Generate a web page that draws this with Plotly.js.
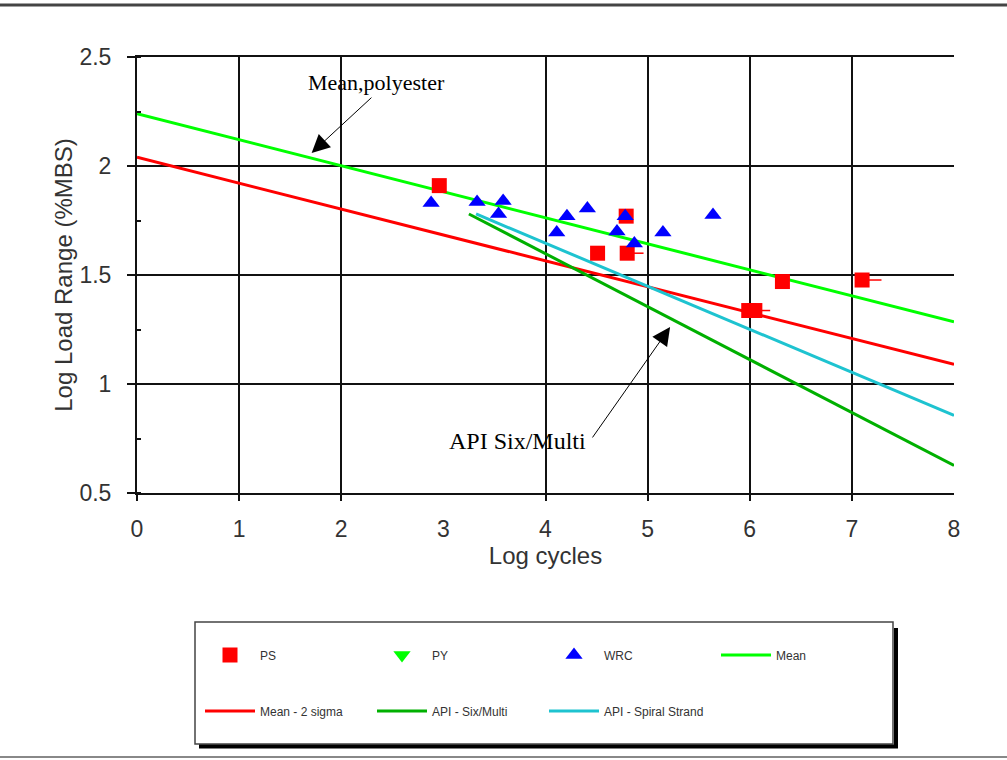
<!DOCTYPE html>
<html>
<head>
<meta charset="utf-8">
<script src="https://cdn.plot.ly/plotly-3.0.1.min.js"></script>
<style>html,body{margin:0;padding:0;background:#fff;}#chart{width:1007px;height:760px;}</style>
</head>
<body>
<div id="chart"></div>
<script>
// ---- data ----
const xTickVals = [0, 1, 2, 3, 4, 5, 6, 7, 8];
const xGridVals = [0, 1, 2, 4, 5, 6, 7];

const psX = [2.96, 4.51, 4.80, 4.79, 5.99, 6.05, 6.32, 7.10];
const psY = [1.91, 1.60, 1.60, 1.77, 1.337, 1.337, 1.47, 1.477];
const psTail = [0, 0, 0.16, 0, 0, 0.15, 0, 0.19];

const pyX = [null];
const pyY = [null];

const wrcX = [2.88, 3.33, 3.585, 3.54, 4.11, 4.21, 4.41, 4.70, 4.78, 4.87, 5.15, 5.64];
const wrcY = [1.83, 1.835, 1.84, 1.78, 1.695, 1.77, 1.805, 1.70, 1.77, 1.645, 1.695, 1.775];

const meanX = [0, 8];
const meanY = [2.24, 1.285];
const sigmaX = [0, 8];
const sigmaY = [2.04, 1.09];
const sixX = [3.25, 8];
const sixY = [1.78, 0.626];
const spiralX = [3.32, 8];
const spiralY = [1.78, 0.856];

const legendNames = ['PS', 'PY', 'WRC', 'Mean', 'Mean - 2 sigma', 'API - Six/Multi', 'API - Spiral Strand'];

// ---- traces ----
const lineW = 3;
const traces = [
  {x: meanX, y: meanY, name: legendNames[3], mode: 'lines', line: {color: '#00ff00', width: lineW}, legend: 'legend', legendrank: 4},
  {x: sigmaX, y: sigmaY, name: legendNames[4], mode: 'lines', line: {color: '#ff0000', width: lineW}, legend: 'legend2', legendrank: 1},
  {x: sixX, y: sixY, name: legendNames[5], mode: 'lines', line: {color: '#00b000', width: lineW}, legend: 'legend2', legendrank: 2},
  {x: spiralX, y: spiralY, name: legendNames[6], mode: 'lines', line: {color: '#1ec3d0', width: lineW}, legend: 'legend2', legendrank: 3},
  {x: psX, y: psY, name: legendNames[0], mode: 'markers', marker: {symbol: 'square', size: 15, color: '#ff0000'},
   error_x: {type: 'data', symmetric: false, array: psTail, arrayminus: psTail.map(() => 0), width: 0, thickness: 1.5, color: '#ff0000'},
   legend: 'legend', legendrank: 1},
  {x: pyX, y: pyY, name: legendNames[1], mode: 'markers', marker: {symbol: 'triangle-down', size: 15, color: '#00ff00'}, legend: 'legend', legendrank: 2},
  {x: wrcX, y: wrcY, name: legendNames[2], mode: 'markers', marker: {symbol: 'triangle-up', size: 15, color: '#0000ff'}, legend: 'legend', legendrank: 3},
  // carrier for the grid axis (no marks)
  {x: [null], y: [null], xaxis: 'x2', yaxis: 'y', mode: 'markers', showlegend: false, hoverinfo: 'skip'}
];

// ---- layout helpers (pixel -> paper) ----
const L = 137, R = 53, T = 57, B = 267, W = 1007, H = 760;
const pw = W - L - R, ph = H - T - B;
const px = v => (v - L) / pw;
const py = v => (H - B - v) / ph;

const sans = 'Liberation Sans, Arial, sans-serif';
const tickFont = {family: sans, size: 23, color: '#333'};
const titleFont = {family: sans, size: 24, color: '#333'};
const legFont = {family: sans, size: 12, color: '#333'};
const serifFam = 'Liberation Serif, Times New Roman, serif';

const legendCommon = {
  orientation: 'h', entrywidth: 107, entrywidthmode: 'pixels', itemwidth: 50,
  font: legFont, bgcolor: 'rgba(0,0,0,0)', borderwidth: 0,
  xanchor: 'left', yanchor: 'middle', traceorder: 'normal'
};

const arrowStyle = {showarrow: true, arrowhead: 2, arrowsize: 3.6, arrowwidth: 1, arrowcolor: '#000', standoff: 0, startstandoff: 0};

const layout = {
  width: W, height: H,
  margin: {l: L, r: R, t: T, b: B},
  paper_bgcolor: '#fff', plot_bgcolor: '#fff',
  showlegend: true,
  xaxis: {
    range: [0, 8], tickvals: xTickVals, ticktext: xTickVals.map(String),
    ticks: '', showgrid: false, zeroline: false,
    showline: true, linecolor: '#111', linewidth: 2, mirror: true,
    tickfont: tickFont, ticklabelstandoff: 14,
    title: {text: 'Log cycles', font: titleFont, standoff: 3}
  },
  xaxis2: {
    overlaying: 'x', anchor: 'y', side: 'bottom', range: [0, 8],
    tickvals: xGridVals, showticklabels: false,
    ticks: 'outside', ticklen: 7, tickwidth: 2, tickcolor: '#111',
    showgrid: true, gridcolor: '#111', gridwidth: 2, zeroline: false, showline: false
  },
  yaxis: {
    range: [0.5, 2.5], tick0: 0, dtick: 0.5,
    ticks: 'outside', ticklen: 8, tickwidth: 2, tickcolor: '#111',
    minor: {dtick: 0.25, tick0: 0, ticks: 'inside', ticklen: 4, tickwidth: 2, tickcolor: '#111', showgrid: false},
    showgrid: true, gridcolor: '#111', gridwidth: 2, zeroline: false,
    showline: true, linecolor: '#111', linewidth: 2,
    tickfont: tickFont, ticklabelstandoff: 11,
    title: {text: 'Log Load Range (%MBS)', font: titleFont, standoff: 0}
  },
  legend: Object.assign({}, legendCommon, {x: px(200), y: py(655)}),
  legend2: Object.assign({}, legendCommon, {x: px(200), y: py(711)}),
  annotations: [
    {x: 2.35, y: 2.385, xref: 'x', yref: 'y', text: 'Mean,polyester', showarrow: false, font: {family: serifFam, size: 22, color: '#000'}},
    Object.assign({x: 1.71, y: 2.06, xref: 'x', yref: 'y', ax: 2.31, ay: 2.32, axref: 'x', ayref: 'y', text: ''}, arrowStyle),
    {x: 3.73, y: 0.739, xref: 'x', yref: 'y', text: 'API Six/Multi', showarrow: false, font: {family: serifFam, size: 24, color: '#000'}},
    Object.assign({x: 5.22, y: 1.261, xref: 'x', yref: 'y', ax: 4.45, ay: 0.748, axref: 'x', ayref: 'y', text: ''}, arrowStyle)
  ],
  shapes: [
    // page rules
    {type: 'line', xref: 'paper', yref: 'paper', x0: px(0), x1: px(W), y0: py(5), y1: py(5), line: {color: '#444', width: 3}},
    {type: 'line', xref: 'paper', yref: 'paper', x0: px(0), x1: px(W), y0: py(757), y1: py(757), line: {color: '#888', width: 2}},
    // legend frame
    {type: 'rect', xref: 'paper', yref: 'paper', x0: px(195), x1: px(893), y0: py(622), y1: py(744), line: {color: '#444', width: 1.5}, fillcolor: 'rgba(0,0,0,0)', layer: 'below'},
    {type: 'line', xref: 'paper', yref: 'paper', x0: px(896), x1: px(896), y0: py(628), y1: py(748), line: {color: '#000', width: 4}},
    {type: 'line', xref: 'paper', yref: 'paper', x0: px(199), x1: px(898), y0: py(746.5), y1: py(746.5), line: {color: '#000', width: 4}}
  ]
};

Plotly.newPlot('chart', traces, layout, {staticPlot: true, displayModeBar: false});
</script>
</body>
</html>
